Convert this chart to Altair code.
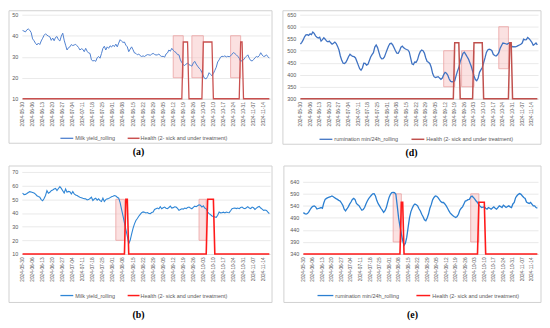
import json
import pandas as pd
import altair as alt

START = "2024-05-30"
N_DAYS = 173
TICK_LABELS = ["2024-05-30", "2024-06-06", "2024-06-13", "2024-06-20", "2024-06-27",
               "2024-07-04", "2024-07-11", "2024-07-18", "2024-07-25", "2024-08-01",
               "2024-08-08", "2024-08-15", "2024-08-22", "2024-08-29", "2024-09-05",
               "2024-09-12", "2024-09-19", "2024-09-26", "2024-10-03", "2024-10-10",
               "2024-10-17", "2024-10-24", "2024-10-31", "2024-11-07", "2024-11-14"]

# (a) Milk yield_rolling, cow 1
MILK_A = [
    42.5, 42.2, 41.8, 42.8, 43.2, 42.6, 41.5, 38.5, 37.6, 36.4,
    35.6, 36.5, 35.8, 37.5, 38.8, 40.2, 40.9, 40.3, 39.8, 39.5,
    37.8, 38.9, 37.6, 39.2, 39.6, 38.1, 37.5, 39.8, 41.2, 37.9,
    35.5, 33.2, 34.3, 34.7, 35.8, 35.3, 35.6, 35.9, 35.2, 34.4,
    33.2, 33.8, 33.5, 32.4, 34.0, 32.6, 31.8, 31.6, 28.5, 28.0,
    28.2, 27.8, 29.5, 30.1, 29.3, 31.5, 34.0, 35.0, 33.2, 34.7,
    34.0, 35.2, 34.6, 35.5, 34.8, 36.0, 34.7, 36.5, 38.1, 37.4,
    36.8, 37.0, 35.5, 34.7, 32.4, 33.6, 34.7, 33.3, 31.8, 31.6,
    30.9, 31.3, 30.5, 30.1, 30.4, 30.1, 30.6, 31.0, 30.9, 30.7,
    31.2, 31.6, 31.1, 30.8, 30.9, 31.3, 30.5, 30.1, 30.2, 29.8,
    31.3, 31.8, 33.2, 32.6, 34.0, 33.1, 32.4, 32.0, 31.0, 30.9,
    28.5, 27.2, 26.2, 25.8, 26.5, 27.0, 26.2, 25.9, 25.5, 27.0,
    27.8, 26.5, 25.5, 24.6, 23.9, 22.5, 20.8, 19.6, 19.5, 20.6,
    22.4, 21.6, 21.0, 22.0, 23.5, 25.0, 27.5, 28.5, 29.8, 30.2,
    30.1, 30.4, 29.9, 30.2, 30.0, 30.4, 31.2, 32.0, 31.5, 30.9,
    30.2, 29.3, 27.8, 28.2, 28.5, 29.5, 30.2, 30.9, 29.3, 28.2,
    28.0, 28.6, 29.5, 30.1, 29.8, 30.5, 31.9, 30.8, 30.1, 30.3,
    30.9, 30.0, 29.3]

# (d) rumination min/24h_rolling, cow 1
RUM_D = [
    527, 535, 545, 558, 566, 567, 564, 570, 567, 578,
    572, 562, 556, 553, 556, 540, 546, 554, 548, 540,
    537, 540, 533, 527, 531, 536, 530, 518, 503, 478,
    460, 448, 447, 452, 463, 476, 485, 480, 476, 475,
    470, 455, 440, 425, 419, 428, 448, 447, 440, 443,
    458, 474, 484, 492, 515, 524, 513, 493, 474, 466,
    467, 474, 490, 505, 520, 530, 531, 524, 512, 500,
    490, 489, 500, 515, 519, 512, 508, 505, 503, 495,
    470, 445, 442, 453, 452, 462, 482, 496, 503, 500,
    490, 470, 455, 452, 446, 430, 405, 392, 388, 390,
    392, 386, 381, 386, 400, 410, 406, 398, 382, 373,
    370, 371, 375, 395, 415, 430, 455, 472, 489, 494,
    485, 475, 465, 450, 435, 415, 395, 380, 375, 385,
    410, 420, 430, 450, 470, 493, 503, 506, 505, 500,
    485, 480, 478, 483, 492, 510, 522, 532, 531, 529,
    527, 531, 533, 522, 516, 517, 516, 518, 521, 524,
    527, 532, 548, 545, 546, 555, 550, 543, 535, 523,
    527, 532, 524]

# (b) Milk yield_rolling, cow 2
MILK_B = [
    54.6, 53.4, 53.6, 54.2, 55.0, 55.6, 55.4, 55.0, 54.6, 53.8,
    52.6, 52.0, 51.5, 49.8, 48.9, 50.6, 52.8, 56.3, 54.4, 55.1,
    56.3, 56.8, 57.5, 58.0, 56.4, 57.9, 59.2, 58.0, 56.3, 54.6,
    57.5, 55.1, 55.8, 55.6, 53.9, 55.6, 54.0, 53.2, 52.7, 52.0,
    51.5, 51.2, 50.8, 50.5, 50.3, 49.6, 49.8, 50.6, 51.5, 49.1,
    50.2, 50.8, 49.4, 50.3, 49.0, 48.4, 50.8, 48.4, 49.8, 50.3,
    50.6, 51.2, 51.8, 52.2, 52.7, 52.4, 51.5, 50.8, 47.5, 42.6,
    37.8, 33.0, 28.0, 23.0, 17.5, 20.0, 24.5, 28.8, 32.0, 34.5,
    36.0, 37.6, 39.0, 40.2, 40.8, 40.5, 40.0, 40.3, 39.6, 39.5,
    40.3, 40.7, 42.6, 43.1, 43.6, 43.0, 44.6, 43.1, 43.8, 44.3,
    43.5, 43.1, 44.0, 45.0, 43.6, 43.9, 44.5, 44.3, 43.3, 41.9,
    42.5, 43.1, 42.8, 43.6, 43.2, 44.0, 44.3, 43.6, 43.1, 44.1,
    45.0, 44.6, 45.3, 46.0, 45.6, 44.3, 45.2, 43.6, 43.0, 40.7,
    39.5, 38.8, 37.8, 37.4, 37.1, 36.8, 38.3, 40.7, 40.1, 40.2,
    40.6, 40.0, 40.7, 40.3, 40.2, 41.6, 43.1, 43.4, 43.6, 43.2,
    43.6, 43.1, 44.0, 44.3, 43.5, 43.1, 43.8, 44.6, 43.6, 43.2,
    44.3, 43.8, 42.6, 43.5, 44.3, 44.8, 43.6, 42.8, 41.9, 42.2,
    41.9, 40.6, 39.5]

# (e) rumination min/24h_rolling, cow 2
RUM_E = [
    512, 508, 506, 508, 515, 525, 533, 538, 540, 536,
    527, 529, 531, 533, 530, 552, 567, 571, 574, 576,
    578, 581, 578, 574, 570, 567, 563, 560, 552, 542,
    526, 519, 527, 536, 547, 556, 567, 571, 566, 550,
    545, 540, 530, 522, 525, 533, 548, 560, 570, 577,
    584, 590, 591, 581, 562, 549, 540, 530, 522, 513,
    520, 533, 555, 575, 588, 595, 596, 595, 588, 540,
    490, 455, 425, 396, 376, 385, 410, 451, 490, 515,
    530, 542, 548, 545, 540, 528, 519, 505, 495, 482,
    478, 490, 506, 530, 545, 565, 575, 581, 580, 574,
    566, 558, 554, 554, 548, 540, 530, 519, 510, 504,
    499, 495, 492, 496, 505, 522, 530, 536, 548, 560,
    562, 566, 567, 577, 581, 575, 568, 560, 554, 544,
    538, 533, 535, 536, 530, 526, 533, 530, 526, 531,
    536, 530, 526, 533, 540, 537, 533, 543, 538, 533,
    537, 540, 536, 533, 548, 554, 574, 582, 588, 591,
    588, 581, 575, 571, 556, 552, 550, 554, 547, 540,
    540, 533, 531]

# sick and under treatment periods (inclusive)
SICK_1 = [("2024-09-19", "2024-09-22"), ("2024-10-03", "2024-10-09"), ("2024-10-29", "2024-10-30")]
SICK_2 = [("2024-08-10", "2024-08-11"), ("2024-10-06", "2024-10-10")]

# shaded windows: (start, end, low, high)
RECTS_A = [("2024-09-12", "2024-09-19", 20, 40), ("2024-09-25", "2024-10-03", 20, 40),
           ("2024-10-22", "2024-10-29", 20, 40)]
RECTS_D = [("2024-09-11", "2024-09-19", 350, 500), ("2024-09-24", "2024-10-03", 350, 500),
           ("2024-10-21", "2024-10-28", 425, 600)]
RECTS_B = [("2024-08-03", "2024-08-09", 20, 50), ("2024-09-30", "2024-10-05", 20, 50)]
RECTS_E = [("2024-08-04", "2024-08-10", 390, 590), ("2024-09-30", "2024-10-06", 390, 590)]

LEG_MILK = "Milk yield_rolling"
LEG_RUM = "rumination min/24h_rolling"
LEG_HEALTH = "Health (2- sick and under treatment)"

assert all(len(s) == N_DAYS for s in (MILK_A, RUM_D, MILK_B, RUM_E))


def day(s):
    return (pd.Timestamp(s) - pd.Timestamp(START)).days


def health(base, high, sick):
    h = [base] * N_DAYS
    for s, e in sick:
        for d in range(day(s), day(e) + 1):
            h[d] = high
    return h


LABEL_EXPR = json.dumps(TICK_LABELS) + "[round(datum.value / 7)]"
GRAY = "#595959"
ONE = pd.DataFrame({"k": [0]})


def panel(series, hbase, hhigh, sick, rects, ydomain, yticks, w, h, blue, bw, red, rw,
          series_label, leg, frame, caption, cap_xy, spacer=None):
    df = pd.DataFrame({"day": list(range(N_DAYS)), "value": series,
                       "health": health(hbase, hhigh, sick)})
    rdf = pd.DataFrame({"start": [day(r[0]) for r in rects], "end": [day(r[1]) for r in rects],
                        "lo": [r[2] for r in rects], "hi": [r[3] for r in rects]})
    xs = alt.Scale(domain=[-0.5, N_DAYS - 0.5], nice=False, zero=False)
    ys = alt.Scale(domain=ydomain, nice=False, zero=False)
    xaxis = alt.Axis(values=list(range(0, 169, 7)), labelExpr=LABEL_EXPR, labelAngle=270,
                     labelFontSize=4.8, labelColor=GRAY, labelPadding=3, ticks=False, grid=False,
                     domainColor="#d9d9d9", domainWidth=0.8, labelOverlap=False, labelFlush=False,
                     labelFont="Liberation Sans", title=None)
    yaxis = alt.Axis(values=yticks, labelFontSize=5.5, labelColor=GRAY, labelPadding=4,
                     ticks=False, domain=False, grid=True, gridColor="#d9d9d9", gridWidth=0.6,
                     labelFont="Liberation Sans", title=None)

    layers = []
    if spacer is not None:
        layers.append(alt.Chart(ONE).mark_rect(fill="white", fillOpacity=0).encode(
            x=alt.value(spacer[0]), x2=alt.value(spacer[1]),
            y=alt.value(spacer[2]), y2=alt.value(spacer[3])))
    layers.append(alt.Chart(ONE).mark_rect(fill="white", fillOpacity=0, stroke="#d0d0d0",
                                           strokeWidth=1).encode(
        x=alt.value(frame[0]), x2=alt.value(frame[1]), y=alt.value(frame[2]), y2=alt.value(frame[3])))
    layers.append(alt.Chart(rdf).mark_rect(fill="#F7C4C4", fillOpacity=0.5, stroke="#EBA3A3",
                                           strokeWidth=0.8).encode(
        x=alt.X("start:Q", scale=xs, axis=xaxis), x2="end:Q",
        y=alt.Y("lo:Q", scale=ys, axis=yaxis), y2="hi:Q"))
    layers.append(alt.Chart(df).mark_line(color=blue, strokeWidth=bw).encode(
        x=alt.X("day:Q", scale=xs, axis=xaxis), y=alt.Y("value:Q", scale=ys, axis=yaxis)))
    layers.append(alt.Chart(df).mark_line(color=red, strokeWidth=rw).encode(
        x=alt.X("day:Q", scale=xs, axis=xaxis), y=alt.Y("health:Q", scale=ys, axis=yaxis)))
    ly = leg[0]
    # legend
    layers.append(alt.Chart(ONE).mark_rule(color=blue, strokeWidth=1.3).encode(
        x=alt.value(leg[1]), x2=alt.value(leg[2]), y=alt.value(ly)))
    layers.append(alt.Chart(ONE).mark_text(text=series_label, align="left", baseline="middle",
                                           fontSize=5.5, color=GRAY, font="Liberation Sans").encode(
        x=alt.value(leg[3]), y=alt.value(ly)))
    layers.append(alt.Chart(ONE).mark_rule(color=red, strokeWidth=1.5).encode(
        x=alt.value(leg[4]), x2=alt.value(leg[5]), y=alt.value(ly)))
    layers.append(alt.Chart(ONE).mark_text(text=LEG_HEALTH, align="left", baseline="middle",
                                           fontSize=5.5, color=GRAY, font="Liberation Sans").encode(
        x=alt.value(leg[6]), y=alt.value(ly)))
    layers.append(alt.Chart(ONE).mark_text(text=caption, align="center", baseline="middle",
                                           fontSize=10, fontWeight="bold", color="black",
                                           font="Liberation Serif").encode(
        x=alt.value(cap_xy[0]), y=alt.value(cap_xy[1])))
    return alt.layer(*layers).properties(width=w, height=h)


pa = panel(MILK_A, 10, 37, SICK_1, RECTS_A, [10, 50], [10, 20, 30, 40, 50], 251, 85,
           "#4F81CF", 1.0, "#C9504F", 1.3, LEG_MILK,
           (125, 39, 52, 54, 107, 119, 120), (-13, 253, -4, 130), "(a)", (118, 139),
           spacer=(-13, 253, 130, 148))
pd_ = panel(RUM_D, 300, 533, SICK_1, RECTS_D, [300, 650], [300, 350, 400, 450, 500, 550, 600, 650],
            241, 85, "#3F72C2", 1.3, "#C0504D", 1.5, LEG_RUM,
            (126, 20, 33, 35, 113, 126, 128), (-17, 244, -4, 131), "(d)", (113, 140),
            spacer=(-17, 244, 131, 148))
pb = panel(MILK_B, 10, 50, SICK_2, RECTS_B, [10, 70], [10, 20, 30, 40, 50, 60, 70], 251, 83,
           "#2F86D6", 1.1, "#FF1A1A", 1.6, LEG_MILK,
           (125, 39, 52, 54, 107, 119, 120), (-13, 253, -6, 132), "(b)", (118, 145))
# (e): plot area shares its top with (b); the 640 line sits 10 px below the top
pe = panel(RUM_E, 340, 555, SICK_2, RECTS_E, [340, 681], [340, 390, 440, 490, 540, 590, 640],
           238, 83, "#2B7FD1", 1.3, "#FF1A1A", 1.6, LEG_RUM,
           (125, 15, 31, 33, 115, 129, 131), (-19, 241, -6, 132), "(e)", (111, 145))

row1 = alt.hconcat(pa, pd_, spacing=9)
row2 = alt.hconcat(pb, pe, spacing=10)
chart = alt.vconcat(row1, row2, spacing=3).configure_view(
    stroke="transparent").properties(padding=0, background="white")

chart.save("out.html", embed_options={"renderer": "svg", "actions": False})
